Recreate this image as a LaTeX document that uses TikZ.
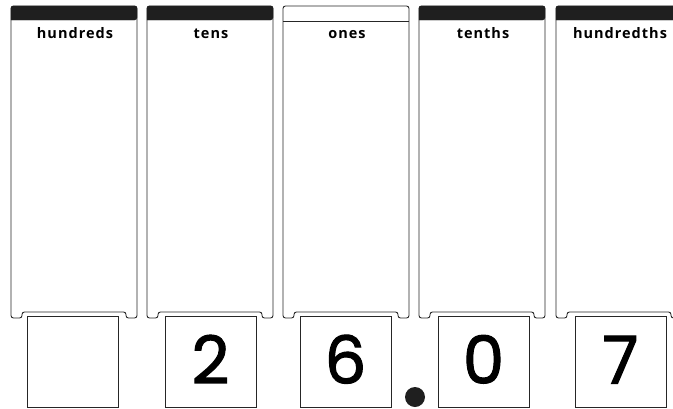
\documentclass[tikz,border=0pt]{standalone}
\usepackage{fontspec}
\setsansfont{Open Sans}
\newfontfamily\digitfont[FakeBold=1.6]{Poppins}
\newfontfamily\labelfont[LetterSpace=7]{Open Sans}
\tikzset{
  colline/.style={line width=0.9pt, draw=black!85, rounded corners=2.5pt},
  headband/.style={fill=black!88, draw=black!88, rounded corners=2.5pt},
  collabel/.style={font=\labelfont\bfseries\fontsize{14.5}{14.5}\selectfont, anchor=base},
  digitbox/.style={draw=black!85, line width=0.9pt, minimum width=91pt, minimum height=91pt,
    inner sep=0pt},
  digit/.style={font=\digitfont\fontsize{66}{66}\selectfont, inner sep=0pt,
    text height=48pt, text depth=0pt},
}
\begin{document}
\begin{tikzpicture}[x=1pt,y=-1pt]
    % Khung
    \useasboundingbox (0,0) rectangle (673,408);
    \clip (0,0) rectangle (673,408);

    % Vẽ các cột
    \foreach \x/\bx/\name/\dig in {11/72.5/hundreds/{}, 147/210.5/tens/2, 283/345.5/ones/6,
                                   419/483.5/tenths/0, 556/620.5/hundredths/7}{
      % thân cột
      \draw[colline] (\x,318) -- (\x,6) -- (\x+126,6) -- (\x+126,318) -- (\x+115,318)
        -- (\x+115,312) -- (\x+11,312) -- (\x+11,318) -- cycle;
      \node[collabel] (lbl-\name) at (\x+64,38) {\name};
      % ô chữ số
      \node[digitbox] (box-\name) at (\bx,361.5) {};
      \node[digit] (dig-\name) at ([yshift=2pt]box-\name.center) {\dig};
    }

    % Dải đen trên đầu cột (trừ cột ones)
    \foreach \x in {11,147,419,556}
      \path[headband] (\x,20) -- (\x,6) -- (\x+126,6) -- (\x+126,20) [sharp corners] -- cycle;
    \draw[line width=0.9pt, draw=black!85] (283,21) -- (409,21);

    % Dấu thập phân
    \node[circle, fill=black!88, minimum size=20pt, inner sep=0pt] (point) at (415,397) {};
\end{tikzpicture}
\end{document}
